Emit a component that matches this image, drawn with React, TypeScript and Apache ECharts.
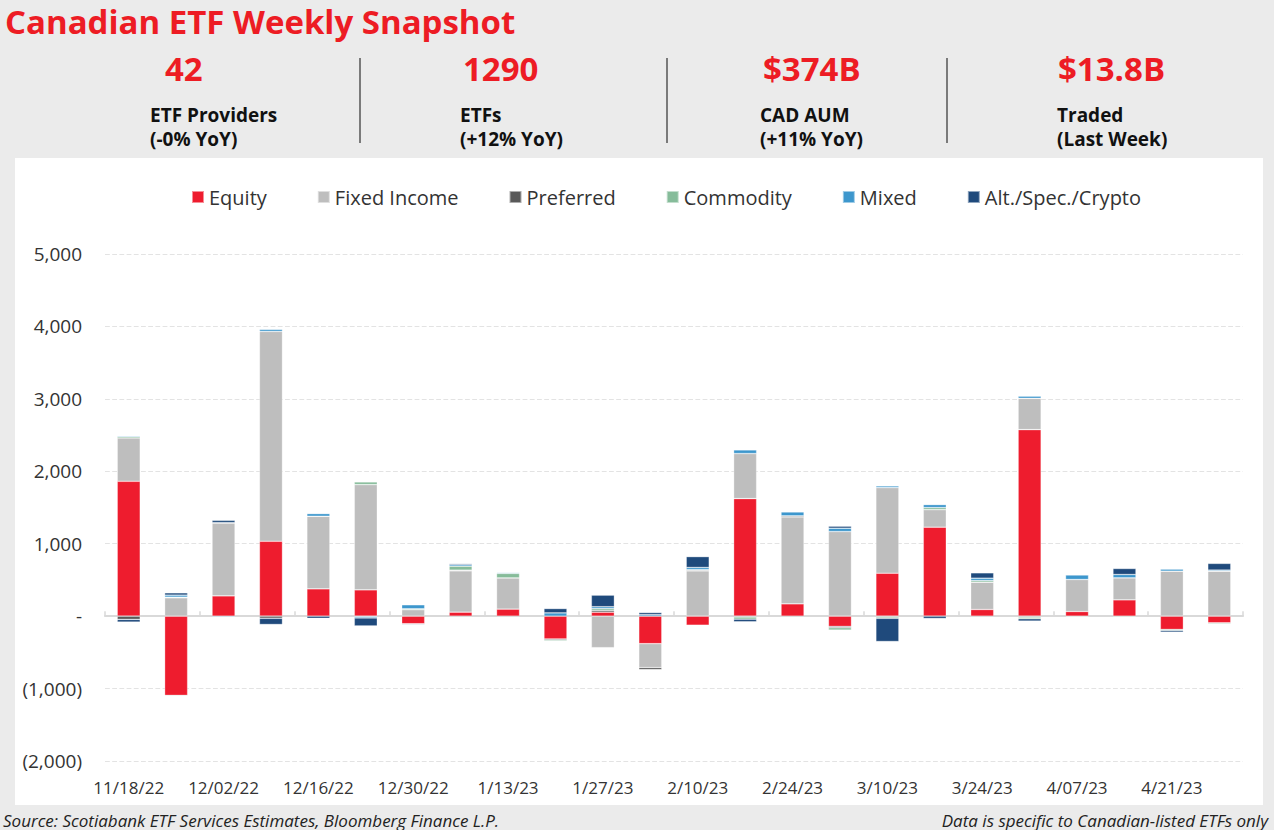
import React, { useEffect, useRef } from "react";
import * as echarts from "echarts";

const categories = ["11/18/22","11/25/22","12/02/22","12/09/22","12/16/22","12/23/22","12/30/22","1/06/23","1/13/23","1/20/23","1/27/23","2/03/23","2/10/23","2/17/23","2/24/23","3/03/23","3/10/23","3/17/23","3/24/23","3/31/23","4/07/23","4/14/23","4/21/23","4/28/23"];
const equity = [1862, -1094, 280, 1034, 377, 363, -105, 55, 97, -317, 55, -380, -125, 1623, 170, -142, 593, 1228, 92, 2575, 64, 225, -184, -92];
const fixedIncome = [598, 253, 1007, 2897, 1002, 1453, 90, 570, 431, 0, -435, -330, 625, 622, 1200, 1168, 1182, 243, 377, 432, 442, 304, 621, 621];
const preferred = [-45, -10, 0, -30, 0, -5, 0, 10, 0, -15, 25, -30, 12, -12, 15, -18, -12, 0, 0, -14, 0, 0, 0, 0];
const commodity = [18, 9, 4, 0, 0, 37, 12, 55, 62, -15, 25, 0, 5, -30, 0, -32, -18, 28, 23, -23, -10, -12, -14, -14];
const mixed = [14, 28, -12, 28, 37, -20, 55, 20, 12, 45, 25, 20, 30, 50, 55, 46, 23, 41, 32, 28, 64, 46, 28, 15];
const alt = [-37, 32, 32, -85, -30, -110, -10, 15, 6, 60, 160, 30, 150, -35, 0, 28, -320, -32, 74, -32, 0, 83, -23, 92];

const seriesNames = ["Equity", "Fixed Income", "Preferred", "Commodity", "Mixed", "Alt./Spec./Crypto"];
const seriesColors = ["#ee1c2e", "#bebebe", "#595959", "#86bc9a", "#3d97cd", "#1f4a7c"];
const seriesData = [equity, fixedIncome, preferred, commodity, mixed, alt];

const statValues = ["42", "1290", "$374B", "$13.8B"];
const statLine1 = ["ETF Providers", "ETFs", "CAD AUM", "Traded"];
const statLine2 = ["(-0% YoY)", "(+12% YoY)", "(+11% YoY)", "(Last Week)"];

const statValueX = [165, 463, 763, 1058];
const statLabelX = [150, 460, 760, 1057];
const dividerX = [360, 667, 947];

const fmt = (v: number) => Math.abs(v).toLocaleString("en-US");

export default function App() {
  const ref = useRef<HTMLDivElement>(null);
  useEffect(() => {
    document.body.style.margin = "0";
    const chart = echarts.init(ref.current!, null, { renderer: "svg" });
    const graphics: any[] = [
      {
        type: "text", x: 5, y: 21,
        style: { text: "Canadian ETF Weekly Snapshot", fill: "#ed1c24", font: "bold 33px 'Open Sans'", verticalAlign: "middle" },
      },
    ];
    statValues.forEach((v, i) => {
      graphics.push({ type: "text", x: statValueX[i], y: 68, style: { text: v, fill: "#ed1c24", font: "bold 33px 'Open Sans'", verticalAlign: "middle" } });
      graphics.push({ type: "text", x: statLabelX[i], y: 115, style: { text: statLine1[i], fill: "#111", font: "bold 19px 'Open Sans'", verticalAlign: "middle" } });
      graphics.push({ type: "text", x: statLabelX[i], y: 139, style: { text: statLine2[i], fill: "#111", font: "bold 19px 'Open Sans'", verticalAlign: "middle" } });
    });
    dividerX.forEach((x) => {
      graphics.push({ type: "line", shape: { x1: x, y1: 58, x2: x, y2: 143 }, style: { stroke: "#555", lineWidth: 1.5 } });
    });
    graphics.push({ type: "text", x: 3, y: 820, style: { text: "Source: Scotiabank ETF Services Estimates, Bloomberg Finance L.P.", fill: "#222", font: "italic 17px 'Open Sans'", verticalAlign: "middle" } });
    graphics.push({ type: "text", x: 1268, y: 820, style: { text: "Data is specific to Canadian-listed ETFs only", fill: "#222", font: "italic 17px 'Open Sans'", verticalAlign: "middle", align: "right" } });

    chart.setOption({
      animation: false,
      backgroundColor: "transparent",
      textStyle: { fontFamily: "Open Sans" },
      graphic: graphics,
      legend: {
        left: 186, top: 182, icon: "rect", itemWidth: 12, itemHeight: 12, itemGap: 50,
        textStyle: { fontSize: 20, color: "#333", fontFamily: "Open Sans" },
        data: seriesNames,
      },
      grid: { left: 105, right: 31, top: 254, bottom: 69 },
      xAxis: [
        {
          type: "category", data: categories, position: "bottom",
          axisLine: { show: false, onZero: false }, axisTick: { show: false },
          axisLabel: { interval: 1, fontSize: 17, color: "#333", margin: 18 },
        },
        {
          type: "category", data: categories, position: "bottom",
          axisLine: { show: true, onZero: true, lineStyle: { color: "#d9d9d9", width: 2 } },
          axisTick: { show: true, inside: true, length: 5, lineStyle: { color: "#d9d9d9", width: 1.5 } },
          axisLabel: { show: false },
        },
      ],
      yAxis: {
        type: "value", min: -2000, max: 5000, interval: 1000,
        axisLine: { show: false }, axisTick: { show: false },
        splitLine: { lineStyle: { type: "dashed", color: "#e3e3e3", width: 1.2 } },
        axisLabel: {
          fontSize: 19, color: "#333", margin: 23,
          formatter: (v: number) => (v === 0 ? "-" : v < 0 ? `(${fmt(v)})` : fmt(v)),
        },
      },
      series: seriesNames.map((name, i) => ({
        name, type: "bar", stack: "total", barWidth: 23, xAxisIndex: 0,
        itemStyle: { color: seriesColors[i], borderColor: "rgba(255,255,255,0.5)", borderWidth: 0.6 },
        data: seriesData[i],
      })),
    });
    return () => chart.dispose();
  }, []);
  return (
    <div style={{ position: "relative", width: 1274, height: 830, background: "#ebebeb", overflow: "hidden" }}>
      <div style={{ position: "absolute", left: 15, top: 158, width: 1248, height: 647, background: "#fff" }} />
      <div ref={ref} style={{ position: "absolute", left: 0, top: 0, width: 1274, height: 830 }} />
    </div>
  );
}
